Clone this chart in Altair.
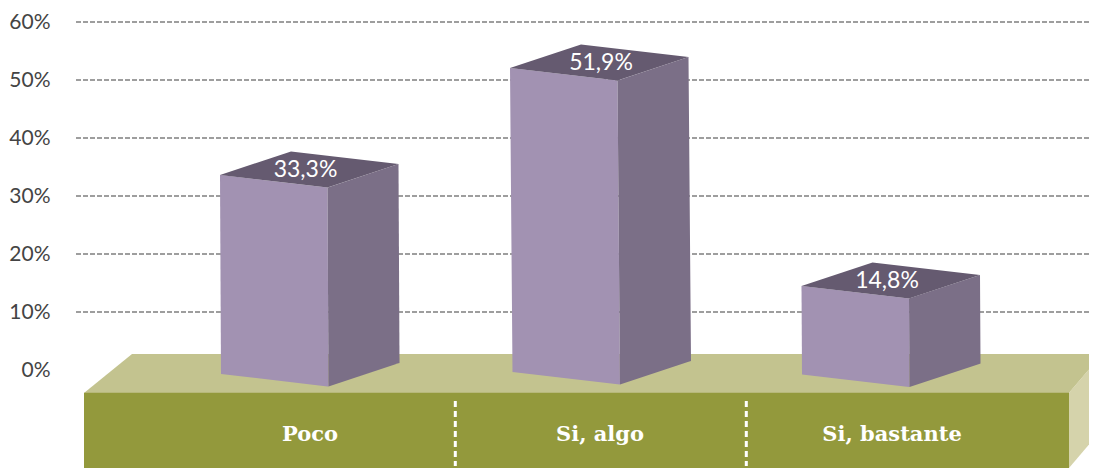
import altair as alt
import pandas as pd

categories = ["Poco", "Si, algo", "Si, bastante"]
values = [33.3, 51.9, 14.8]
tick_values = [0, 10, 20, 30, 40, 50, 60]
grid_values = [10, 20, 30, 40, 50, 60]

# layout of the drawing: x in page pixels, y through the percent scale
PX = 5.8          # pixels per percentage point
ZERO_Y = 370      # page y of 0 %
TOP_Y, BOT_Y = 8, 468
X0, X1 = 75, 1089   # the page holds the svg up to x = 1089 without shrinking it


def val(py):
    return (ZERO_Y - py) / PX


bar_left = [220, 510, 801.5]
bar_skew = [1, 2.5, 0.5]
bar_top_nudge = [0.32, 0.17, -0.31]
bar_floor_y = [374, 372, 374.5]
label_x = [310, 600, 892]
value_label_x = [305.5, 601, 887]
divider_x = [455.3, 746.3]

FRONT, DEPTH_X, DEPTH_UP, FRONT_DOWN = 107.5, 71, 23.5, 12.5


def area_rows(points, face, kind):
    """Turn a convex polygon into x / y / y2 rows for an area mark."""
    xs = sorted({p[0] for p in points})
    rows = []
    n = len(points)
    for x in xs:
        ys = []
        for i in range(n):
            (ax, ay), (bx, by) = points[i], points[(i + 1) % n]
            if min(ax, bx) <= x <= max(ax, bx):
                if ax == bx:
                    ys += [ay, by]
                else:
                    ys.append(ay + (by - ay) * (x - ax) / (bx - ax))
        rows.append(dict(face=face, kind=kind, x=x, y=max(ys), y2=min(ys)))
    return rows


base_rows = []
base_rows += area_rows([(84, val(393)), (132, val(354)), (1097, val(354)), (1097, val(360)), (1069, val(393))], "b1", "base_top")
base_rows += area_rows([(84, val(392.7)), (1069, val(392.7)), (1069, val(BOT_Y)), (84, val(BOT_Y))], "b2", "base_front")
base_rows += area_rows([(1069, val(392.7)), (1097, val(360)), (1097, val(435)), (1069, val(BOT_Y))], "b3", "base_side")

bar_rows = []
text_rows = []
for i, v in enumerate(values):
    left, skew = bar_left[i], bar_skew[i]
    t = v + bar_top_nudge[i]
    f = val(bar_floor_y[i])
    du, dd, sd = DEPTH_UP / PX, FRONT_DOWN / PX, (DEPTH_UP - FRONT_DOWN) / PX
    tl = (left, t)
    tr = (left + FRONT, t - dd)
    bk = (left + FRONT + DEPTH_X, t + sd)
    bb = (left + DEPTH_X, t + du)
    bl = (left + skew, f)
    br = (left + FRONT + skew, f - dd)
    sb = (left + FRONT + DEPTH_X + skew, f + sd)
    bar_rows += area_rows([tl, tr, br, bl], f"f{i}", "front")
    bar_rows += area_rows([tr, bk, sb, br], f"s{i}", "side")
    bar_rows += area_rows([tl, bb, bk, tr], f"t{i}", "top")
    text_rows.append(dict(x=value_label_x[i], y=t + 0.85, t=f"{v:.1f}%".replace(".", ",")))

x_scale = alt.Scale(domain=[X0, X1], range=[0, X1 - X0], nice=False, zero=False)
y_scale = alt.Scale(domain=[val(BOT_Y), val(TOP_Y)], nice=False, zero=False)
y_axis = alt.Axis(
    values=tick_values, labelExpr="datum.value + '%'", grid=False, ticks=False, domain=False,
    title=None, labelPadding=25, labelFont="Lato", labelFontSize=21, labelColor="#444444",
)
kinds = ["base_top", "base_front", "base_side", "front", "side", "top"]
colors = ["#c3c38f", "#93993c", "#d5d3ab", "#a292b2", "#7b6f87", "#655a70"]


def X(field="x:Q"):
    return alt.X(field, scale=x_scale, axis=None)


def Y(field="y:Q", **kw):
    return alt.Y(field, scale=y_scale, axis=y_axis, **kw)


def faces(rows):
    return alt.Chart(pd.DataFrame(rows)).mark_area(interpolate="linear").encode(
        x=X(),
        y=Y(stack=None),
        y2="y2:Q",
        detail="face:N",
        color=alt.Color("kind:N", scale=alt.Scale(domain=kinds, range=colors), legend=None),
    )


grid = alt.Chart(pd.DataFrame({"v": grid_values})).mark_rule(
    color="#7f7f7f", strokeWidth=1.4, strokeDash=[5, 2]
).encode(y=Y("v:Q"))

dividers = alt.Chart(pd.DataFrame({"x": divider_x, "y": [val(401)] * 2, "y2": [val(466)] * 2})).mark_rule(
    color="white", strokeWidth=3, strokeDash=[6, 4]
).encode(x=X(), y=Y(), y2="y2:Q")

value_text = alt.Chart(pd.DataFrame(text_rows)).mark_text(
    font="Lato", fontSize=23, color="white", align="center", baseline="middle"
).encode(x=X(), y=Y(), text="t:N")

cat_text = alt.Chart(pd.DataFrame({"x": label_x, "y": [val(434.5)] * 3, "t": categories})).mark_text(
    font="DejaVu Serif", fontWeight="bold", fontSize=21, color="white", align="center", baseline="middle"
).encode(x=X(), y=Y(), text="t:N")

chart = alt.layer(grid, faces(base_rows), faces(bar_rows), dividers, value_text, cat_text).properties(
    width=X1 - X0,
    height=BOT_Y - TOP_Y,
    padding={"left": X0 - 8, "right": 0, "top": 0, "bottom": 0},
    autosize=alt.AutoSizeParams(type="none"),
    background="white",
).configure_view(stroke=None)

chart.save("out.html", embed_options={"renderer": "svg", "actions": False})
